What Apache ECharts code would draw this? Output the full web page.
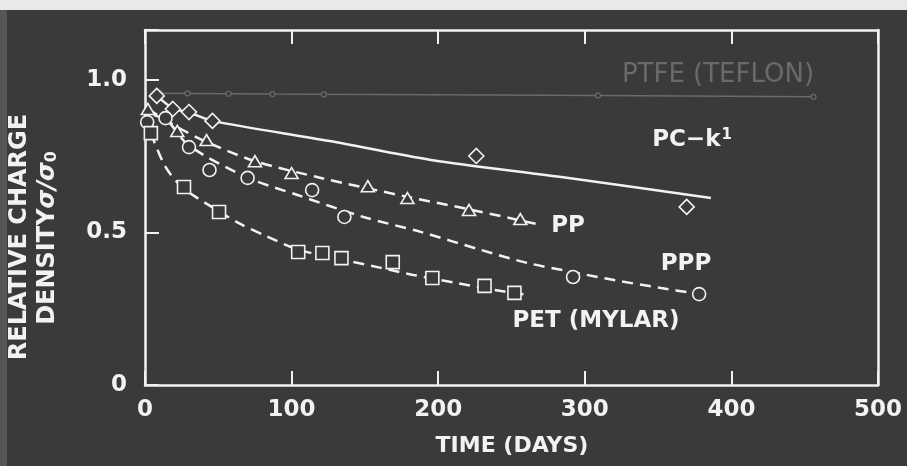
<!DOCTYPE html>
<html>
<head>
<meta charset="utf-8">
<script src="https://cdn.jsdelivr.net/npm/echarts@6/dist/echarts.min.js"></script>
<style>
  html, body { margin: 0; padding: 0; background: #3b3b3b; }
  #chart { width: 907px; height: 466px; }
</style>
</head>
<body>
<div id="chart"></div>
<script>
// axis ticks
const xTicks = [0, 100, 200, 300, 400, 500];
const yTickLabels = ['0', '0.5', '1.0'];

// PTFE (Teflon) - faint line with small markers
const ptfeData = [[10, 0.957], [29, 0.956], [57, 0.955], [87, 0.954], [122, 0.953], [309, 0.949], [456, 0.945]];

// PC-k1 fitted curve + diamonds
const pcFit = [[8, 0.948], [19, 0.908], [31, 0.892], [46, 0.866], [126, 0.800], [195, 0.738], [284, 0.682], [386, 0.613]];
const pcPoints = [[8, 0.948], [19, 0.905], [30, 0.895], [46, 0.866], [226, 0.751], [369.5, 0.584]];

// PP fitted curve + triangles
const ppFit = [[2, 0.905], [22, 0.846], [42, 0.797], [75, 0.734], [120, 0.679], [180, 0.616], [220, 0.577], [270, 0.525]];
const ppPoints = [[2, 0.905], [22, 0.833], [42, 0.803], [75, 0.734], [100, 0.695], [152, 0.652], [179, 0.613], [221, 0.574], [256, 0.544]];

// PPP fitted curve + circles
const pppFit = [[6, 0.885], [15, 0.868], [30, 0.785], [70, 0.680], [104, 0.623], [149, 0.551], [188, 0.502], [229, 0.443], [261, 0.400], [292, 0.370], [320, 0.344], [352, 0.318], [378, 0.298]];
const pppPoints = [[1.5, 0.862], [14, 0.875], [30, 0.780], [44, 0.705], [70, 0.679], [114, 0.639], [136, 0.551], [292, 0.354], [378, 0.298]];

// PET (Mylar) fitted curve + squares
const petFit = [[4, 0.826], [14, 0.715], [26, 0.646], [49, 0.574], [65, 0.528], [81, 0.492], [105, 0.443], [133, 0.413], [161, 0.384], [183, 0.361], [213, 0.334], [243, 0.308], [262, 0.295]];
const petPoints = [[4, 0.826], [26.6, 0.649], [50.5, 0.567], [104.5, 0.436], [121, 0.433], [134, 0.416], [169, 0.403], [196, 0.351], [231.6, 0.325], [252, 0.302]];

const BG = '#3a3a3a';
const FG = '#f2f2f2';
const GRAY = '#6a6a6a';
const FONT = '"DejaVu Sans", sans-serif';

const chart = echarts.init(document.getElementById('chart'));

const dashed = [11, 7];

function fitLine(name, data, type) {
  return {
    name: name,
    type: 'line',
    data: data,
    smooth: 0.3,
    showSymbol: false,
    silent: true,
    z: 2,
    lineStyle: { color: FG, width: 2.5, type: type }
  };
}

function markers(name, data, symbol, size) {
  return {
    name: name,
    type: 'scatter',
    data: data,
    symbol: symbol,
    symbolSize: size,
    z: 3,
    itemStyle: { color: BG, borderColor: FG, borderWidth: 1.6, opacity: 1 }
  };
}

const axisLine = { show: true, onZero: false, lineStyle: { color: FG, width: 2.5 } };
const tickIn = { show: true, inside: true, length: 14, lineStyle: { color: FG, width: 2 } };

const option = {
  backgroundColor: BG,
  animation: false,
  grid: { left: 145, right: 29, top: 30, bottom: 81 },
  xAxis: [
    {
      type: 'value', min: 0, max: 500, interval: 100, position: 'bottom',
      axisLine: axisLine, axisTick: tickIn, splitLine: { show: false },
      axisLabel: {
        color: FG, fontFamily: FONT, fontWeight: 'bold', fontSize: 23, margin: 14,
        formatter: v => xTicks.indexOf(v) >= 0 ? String(v) : ''
      }
    },
    {
      type: 'value', min: 0, max: 500, interval: 100, position: 'top',
      axisLine: axisLine, axisTick: tickIn, splitLine: { show: false },
      axisLabel: { show: false }
    }
  ],
  yAxis: [
    {
      type: 'value', min: 0, max: 1.164, interval: 0.5, position: 'left',
      axisLine: axisLine, axisTick: tickIn, splitLine: { show: false },
      axisLabel: {
        color: FG, fontFamily: FONT, fontWeight: 'bold', fontSize: 23, margin: 18,
        formatter: v => {
          const i = Math.round(v / 0.5);
          return Math.abs(v - i * 0.5) < 1e-6 && yTickLabels[i] ? yTickLabels[i] : '';
        }
      }
    },
    {
      type: 'value', min: 0, max: 1.164, position: 'right',
      axisLine: axisLine, axisTick: { show: false }, axisLabel: { show: false },
      splitLine: { show: false }
    }
  ],
  graphic: [
    { type: 'rect', shape: { x: 0, y: 0, width: 907, height: 10 }, style: { fill: '#e9e9e9' }, silent: true },
    { type: 'rect', shape: { x: 0, y: 10, width: 7, height: 456 }, style: { fill: '#555555' }, silent: true },
    {
      type: 'text', x: 512, y: 446,
      style: { text: 'TIME (DAYS)', fill: FG, font: 'bold 22px ' + FONT, align: 'center', verticalAlign: 'middle' }
    },
    {
      type: 'text', x: 20, y: 237, rotation: Math.PI / 2,
      style: { text: 'RELATIVE CHARGE', fill: FG, font: 'bold 24px ' + FONT, align: 'center', verticalAlign: 'middle' }
    },
    {
      type: 'text', x: 48, y: 238, rotation: Math.PI / 2,
      style: {
        text: '{a|DENSITY}{i|σ/σ}{s|0}', fill: FG, align: 'center', verticalAlign: 'middle',
        rich: {
          a: { fontFamily: FONT, fontWeight: 'bold', fontSize: 24, fill: FG },
          i: { fontFamily: FONT, fontWeight: 'bold', fontStyle: 'italic', fontSize: 24, fill: FG },
          s: { fontFamily: FONT, fontWeight: 'bold', fontSize: 16, fill: FG, verticalAlign: 'bottom', padding: [8, 0, 0, 0] }
        }
      }
    },
    {
      type: 'text', x: 718, y: 75,
      style: { text: 'PTFE (TEFLON)', fill: GRAY, font: '26px ' + FONT, align: 'center', verticalAlign: 'middle' }
    },
    {
      type: 'text', x: 692, y: 140,
      style: {
        text: '{a|PC−k}{s|1}', fill: FG, align: 'center', verticalAlign: 'middle',
        rich: {
          a: { fontFamily: FONT, fontWeight: 'bold', fontSize: 23, fill: FG },
          s: { fontFamily: FONT, fontWeight: 'bold', fontSize: 15, fill: FG, verticalAlign: 'top', padding: [0, 0, 10, 1] }
        }
      }
    },
    {
      type: 'text', x: 568, y: 226,
      style: { text: 'PP', fill: FG, font: 'bold 23px ' + FONT, align: 'center', verticalAlign: 'middle' }
    },
    {
      type: 'text', x: 686, y: 264,
      style: { text: 'PPP', fill: FG, font: 'bold 23px ' + FONT, align: 'center', verticalAlign: 'middle' }
    },
    {
      type: 'text', x: 596, y: 321,
      style: { text: 'PET (MYLAR)', fill: FG, font: 'bold 23px ' + FONT, align: 'center', verticalAlign: 'middle' }
    }
  ],
  series: [
    {
      name: 'PTFE', type: 'line', data: ptfeData, z: 1,
      symbol: 'circle', symbolSize: 5, showSymbol: true,
      lineStyle: { color: GRAY, width: 1.5 },
      itemStyle: { color: BG, borderColor: GRAY, borderWidth: 1.2 }
    },
    fitLine('PC-k1 fit', pcFit, 'solid'),
    markers('PC-k1', pcPoints, 'diamond', 15),
    fitLine('PP fit', ppFit, dashed),
    markers('PP', ppPoints, 'triangle', [13, 11]),
    fitLine('PPP fit', pppFit, dashed),
    markers('PPP', pppPoints, 'circle', 13),
    fitLine('PET fit', petFit, dashed),
    markers('PET', petPoints, 'rect', 13)
  ]
};

chart.setOption(option);
</script>
</body>
</html>
